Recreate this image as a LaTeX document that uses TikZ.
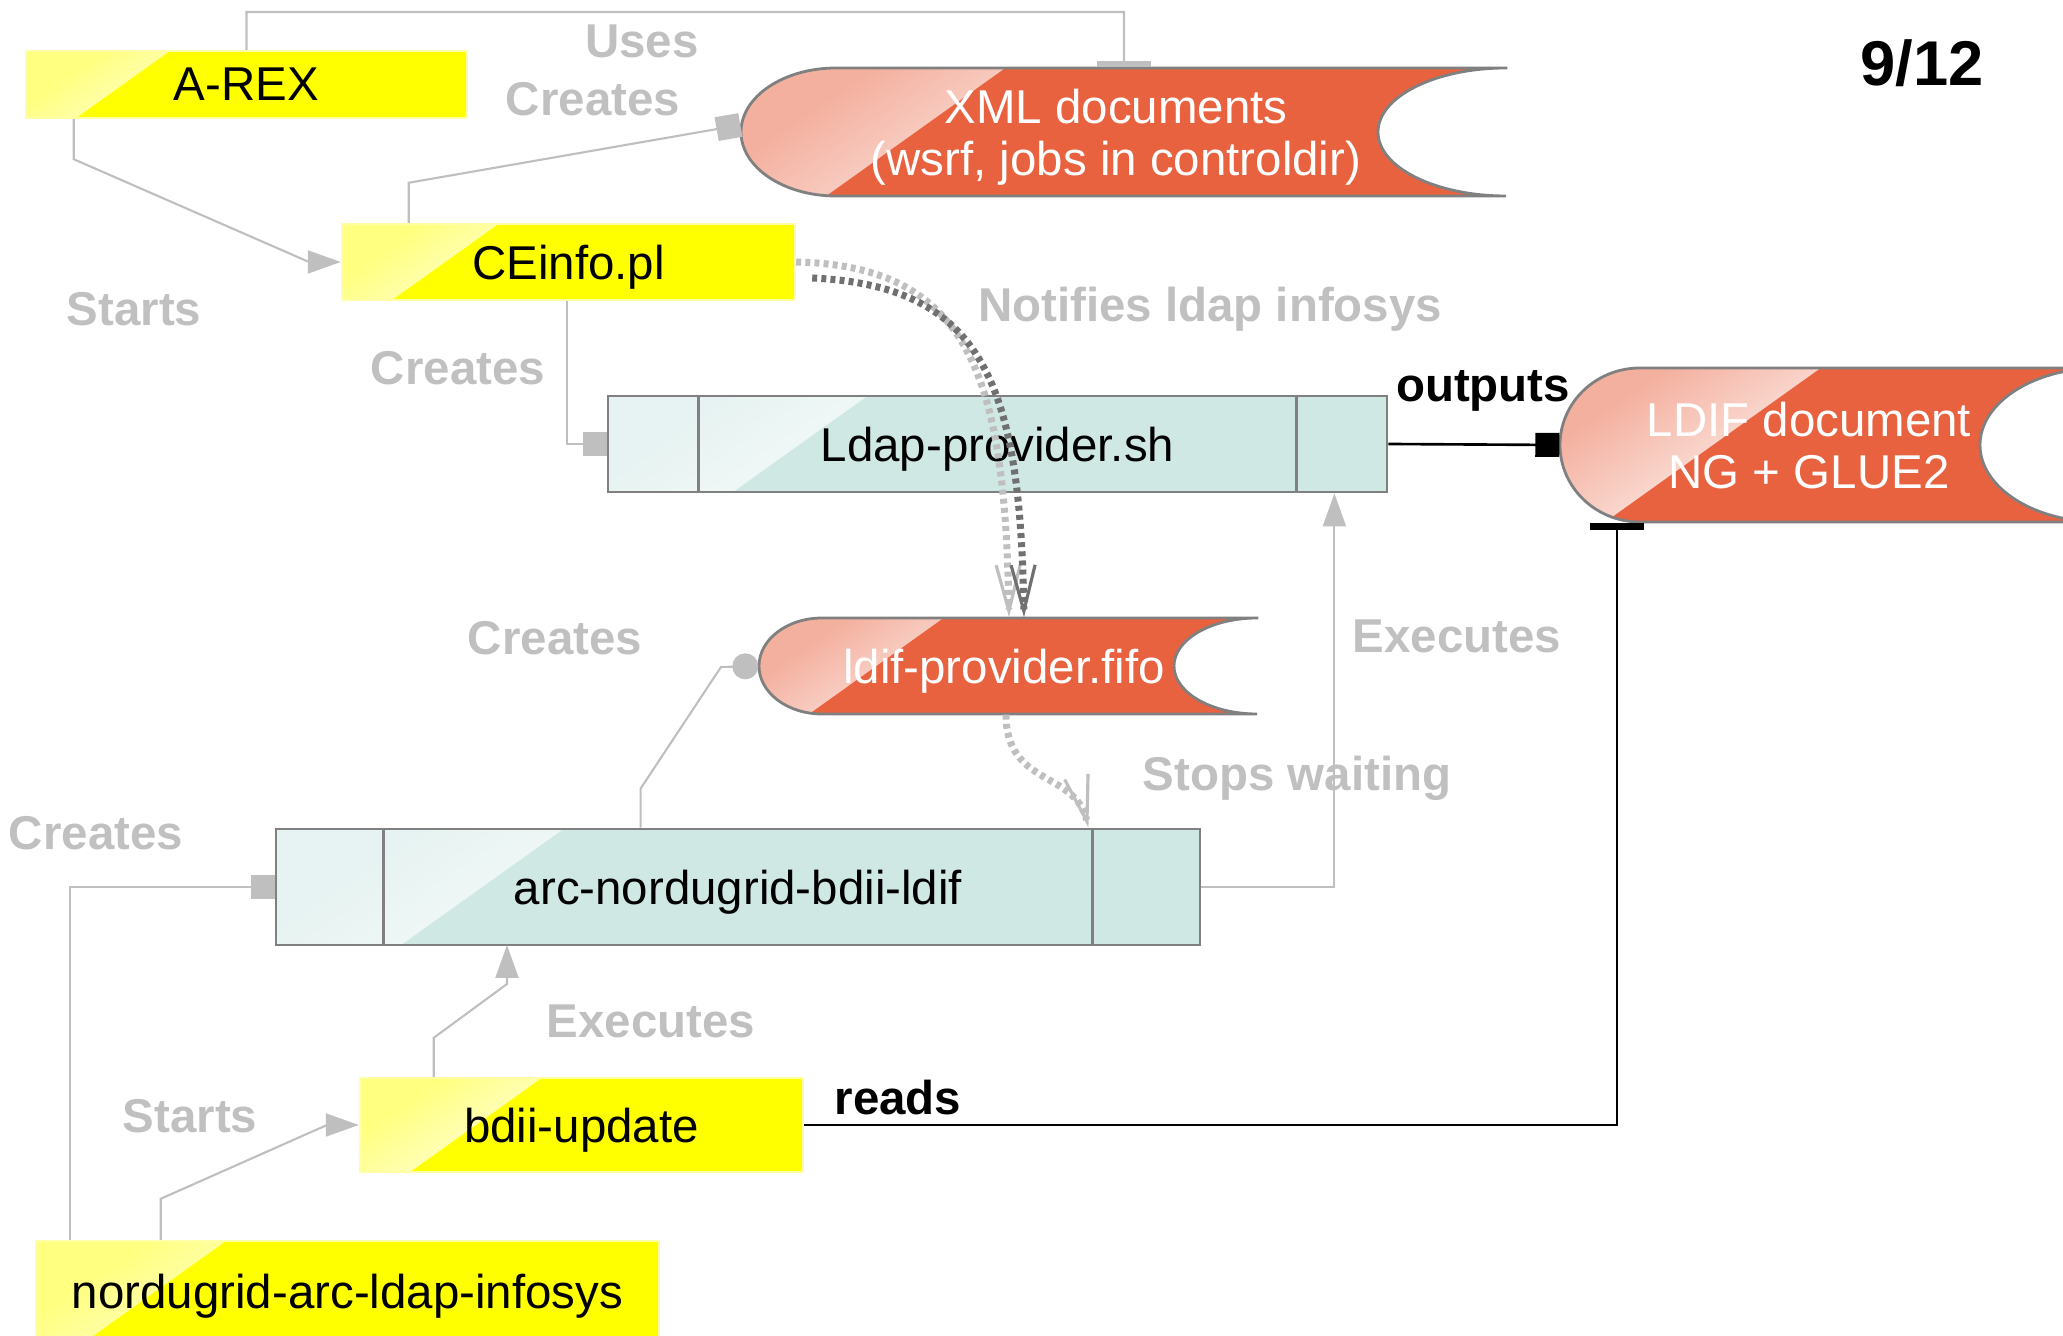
\documentclass[tikz,border=0pt]{standalone}
\usepackage{fontspec}
\setmainfont{Liberation Sans}
\usetikzlibrary{arrows.meta,calc}

\definecolor{progyellow}{RGB}{255,255,0}
\definecolor{scriptteal}{RGB}{208,232,228}
\definecolor{docred}{RGB}{233,98,64}
\definecolor{edgegray}{RGB}{128,128,128}
\definecolor{linkgray}{RGB}{191,191,191}
\definecolor{verbgray}{RGB}{192,192,192}
\definecolor{notifygray}{RGB}{112,112,112}

\newcommand{\boxfont}{\fontsize{13.5}{14.8}\selectfont}

\tikzset{
  glare/.style 2 args={path picture={
    \fill[left color=#1!50!white,right color=#1!75!white,middle color=#1!10!white,shading angle=34]
      let \p1=(path picture bounding box.south west),\p2=(path picture bounding box.north east) in
      (\p1) -- (\x1+#2,\y1) -- (\x1+#2+1.4*\y2-1.4*\y1,\y2) -- (\x1,\y2) -- cycle;}},
  prog/.style={draw=progyellow!35!white,line width=0.7pt,fill=progyellow,glare={progyellow}{0.5cm},font=\boxfont,inner sep=0pt,text depth=0pt},
  script/.style={draw=edgegray,line width=0.8pt,fill=scriptteal,glare={scriptteal}{1.25cm},font=\boxfont,inner sep=0pt,text depth=0pt},
  doc/.style={draw=edgegray,line width=0.8pt,fill=docred},
  doctext/.style={text=white,align=center,font=\boxfont,inner sep=0pt,text depth=0pt},
  verb/.style={text=verbgray,font=\bfseries\boxfont,inner sep=0pt},
  ioverb/.style={text=black,font=\bfseries\boxfont,inner sep=0pt},
  link/.style={draw=linkgray,line width=0.6pt},
  tri/.style={-{Triangle[length=0.33cm,width=0.23cm]}},
  sq/.style={-{Square[length=0.24cm]}},
  dotend/.style={-{Circle[length=0.26cm]}},
  notify/.style={line width=2pt,dash pattern=on 1.4pt off 1.2pt,-{Straight Barb[length=0.46cm,width=0.24cm,line width=0.9pt]}},
  divider/.style={draw=edgegray,line width=0.8pt}
}

\begin{document}
\begin{tikzpicture}
\useasboundingbox (0,0) rectangle (20.63,13.36);
\clip (0,0) rectangle (20.63,13.36);

% documents
\path[doc,glare={docred}{0.85cm}] (15.06,12.68) -- (8.36,12.68) arc[start angle=90,end angle=270,x radius=0.95,y radius=0.64] -- (15.06,11.40) arc[start angle=270,end angle=90,x radius=1.28,y radius=0.64] -- cycle;
\path[doc,glare={docred}{0.45cm}] (21.0,9.68) -- (16.40,9.68) arc[start angle=90,end angle=270,x radius=0.8,y radius=0.77] -- (21.0,8.14) arc[start angle=270,end angle=90,x radius=1.2,y radius=0.77] -- cycle;
\path[doc,glare={docred}{0.5cm}] (12.57,7.18) -- (8.22,7.18) arc[start angle=90,end angle=270,x radius=0.63,y radius=0.48] -- (12.57,6.22) arc[start angle=270,end angle=90,x radius=0.83,y radius=0.48] -- cycle;
\node[doctext,minimum width=7.50cm,minimum height=1.28cm] (xmldoc) at (11.16,12.04) {XML documents\\(wsrf, jobs in controldir)};
\node[doctext,minimum width=4.98cm,minimum height=1.54cm] (ldif) at (18.09,8.91) {LDIF document\\NG + GLUE2};
\node[doctext,minimum width=4.90cm,minimum height=0.96cm] (fifo) at (10.04,6.70) {ldif-provider.fifo};

% programs
\node[prog,minimum width=4.41cm,minimum height=0.67cm] (arex) at (2.465,12.515) {A-REX};
\node[prog,minimum width=4.53cm,minimum height=0.76cm] (ceinfo) at (5.685,10.74) {CEinfo.pl};
\node[prog,minimum width=4.43cm,minimum height=0.94cm] (bdiiupd) at (5.815,2.11) {bdii-update};
\node[prog,minimum width=6.23cm,minimum height=1.00cm] (infosys) at (3.475,0.45) {nordugrid-arc-ldap-infosys};

% scripts
\node[script,minimum width=7.79cm,minimum height=0.96cm] (ldapprov) at (9.975,8.92) {Ldap-provider.sh};
\node[script,minimum width=9.24cm,minimum height=1.16cm] (bdiildif) at (7.38,4.49) {arc-nordugrid-bdii-ldif};
\foreach \n/\d in {ldapprov/0.92cm,bdiildif/1.09cm}{
  \draw[divider] ([xshift=\d]\n.north west) -- ([xshift=\d]\n.south west);
  \draw[divider] ([xshift=-\d]\n.north east) -- ([xshift=-\d]\n.south east);
}

% gray links
\draw[link,-{Bar[width=0.54cm,line width=1.9pt]}] (arex.north) |- (11.24,13.24) -- ([xshift=0.08cm]xmldoc.north);
\draw[link,tri] ([xshift=0.49cm]arex.south west) -- ++(0,-0.40) -- (3.09,10.74) -- (ceinfo.west);
\draw[link,sq] ([xshift=0.68cm]ceinfo.north west) -- ++(0,0.40) -- ([yshift=0.07cm]xmldoc.west);
\draw[link,sq] ([xshift=2.26cm]ceinfo.south west) |- (ldapprov.west);
\draw[link,dotend] ([xshift=3.66cm]bdiildif.north west) -- ++(0,0.39) -- (7.21,6.69) -- (fifo.west);
\draw[link,sq] ([xshift=0.35cm]infosys.north west) |- (bdiildif.west);
\draw[link,tri] ([xshift=0.75cm]bdiiupd.north west) -- ++(0,0.39) -- (5.07,3.52) -- (5.07,3.91);
\draw[link,tri] ([xshift=1.26cm]infosys.north west) -- ++(0,0.41) -- (3.27,2.11) -- (bdiiupd.west);
\draw[link,tri] (bdiildif.east) -| ([xshift=-0.54cm]ldapprov.south east);

% black links
\draw[line width=0.75pt,-{Square[length=0.24cm]}] (ldapprov.east) -- (ldif.west);
\draw[line width=0.75pt,-{Bar[width=0.54cm,line width=2pt]}] (bdiiupd.east) -| ([xshift=-1.92cm]ldif.south);

% notifications
\draw[notify,draw=linkgray] (ceinfo.east) .. controls (9.7,10.7) and (10.05,9.6) .. ([xshift=0.05cm]fifo.north);
\draw[notify,draw=notifygray] ([shift={(0.16,-0.16)}]ceinfo.east) .. controls (9.85,10.5) and (10.2,9.5) .. ([xshift=0.2cm]fifo.north);
\draw[notify,draw=linkgray] ([xshift=0.02cm]fifo.south) .. controls (10.06,5.5) and (10.75,5.65) .. ([xshift=-1.13cm]bdiildif.north east);

% labels
\node[verb] (uses) at (6.42,12.95) {Uses};
\node[verb] (createsxml) at (5.93,12.37) {Creates};
\node[verb] (startsce) at (1.34,10.27) {Starts};
\node[verb] (notifies) at (12.10,10.27) {Notifies ldap infosys};
\node[verb] (createsldap) at (4.58,9.68) {Creates};
\node[verb] (createsfifo) at (5.55,6.98) {Creates};
\node[verb] (executesldap) at (14.57,7.00) {Executes};
\node[verb] (stopswaiting) at (12.97,5.58) {Stops waiting};
\node[verb] (createsbdii) at (0.96,5.03) {Creates};
\node[verb] (executesbdii) at (6.51,3.15) {Executes};
\node[verb] (startsbdii) at (1.90,2.20) {Starts};
\node[ioverb] (outputs) at (14.83,9.45) {outputs};
\node[ioverb] (reads) at (8.98,2.38) {reads};
\node[ioverb,font=\bfseries\fontsize{18}{20}\selectfont] (pagenum) at (19.22,12.73) {9/12};
\end{tikzpicture}
\end{document}
